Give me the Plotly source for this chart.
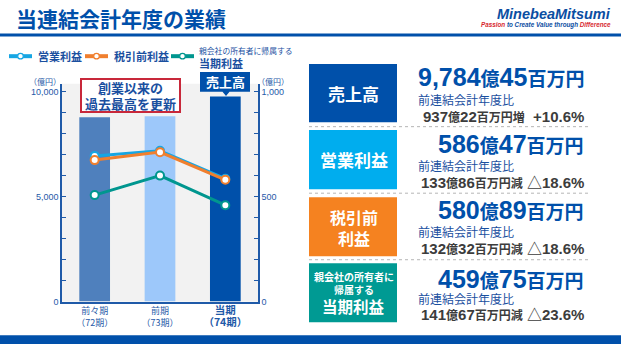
import plotly.graph_objects as go

# ---------------- data ----------------
categories = ["前々期<br>（72期）", "前期<br>（73期）",
              "<span style='font-size:10.5px'><b>当期</b></span><br><span style='font-size:10.5px'><b>（74期）</b></span>"]
sales = [8791, 8847, 9784]               # 億円 (left axis)
operating_income = [695, 720, 586]       # 億円 (right axis)
pretax_income = [675, 713, 581]
net_income = [508, 601, 460]
left_ticks = [0, 5000, 10000]
left_tick_text = ["0", "5,000", "10,000"]
right_ticks = [0, 500, 1000]
right_tick_text = ["0", "500", "1,000"]
series_names = ["営業利益", "税引前利益", "当期利益"]
series_prefix = ["", "", "親会社の所有者に帰属する"]

panel_labels = ["売上高", "営業利益", "税引前<br>利益", "親会社の所有者に<br>帰属する"]
panel_label_extra = ["", "", "", "当期利益"]
panel_big = [("9,784", "45"), ("586", "47"), ("580", "89"), ("459", "75")]
panel_diff = [("937", "22", "増", "+10.6%"), ("133", "86", "減", "△18.6%"),
              ("132", "32", "減", "△18.6%"), ("141", "67", "減", "△23.6%")]

# ---------------- helpers ----------------
W, H = 621, 349
def X(px): return px / W
def Y(py): return 1 - py / H

BLUE = "#0050aa"
AXBLUE = "#1f5aa8"
TXTBLUE = "#1a4f9f"
FONT = "Liberation Sans, Noto Sans CJK JP, sans-serif"
JP = "Noto Sans CJK JP, sans-serif"
colors = ["#17a6e3", "#f07f2e", "#00968f"]

fig = go.Figure()

fig.add_trace(go.Bar(
    x=categories, y=sales, width=0.47,
    marker=dict(color=["#4f80bd", "#9dc8fa", "#0050aa"], line=dict(width=0)),
    showlegend=False, hoverinfo="skip", yaxis="y"))

for name, vals, col in zip(series_names, [operating_income, pretax_income, net_income], colors):
    fig.add_trace(go.Scatter(
        x=categories, y=vals, name=name, yaxis="y2", mode="lines+markers",
        line=dict(color=col, width=3),
        marker=dict(size=8, color="white", line=dict(color=col, width=2)),
        showlegend=False, hoverinfo="skip"))

shapes = []
annotations = []

def ann(text, x, y, size, color, family=JP, xa="center", ya="middle", **kw):
    d = dict(text=text, x=X(x), y=Y(y), xref="paper", yref="paper", showarrow=False,
             xanchor=xa, yanchor=ya, font=dict(family=family, size=size, color=color))
    d.update(kw)
    annotations.append(d)

# title + underline + footer
ann("<b>当連結会計年度の業績</b>", 14, 18, 21, BLUE, xa="left")
shapes.append(dict(type="line", xref="paper", yref="paper", x0=0, x1=1, y0=Y(35.5), y1=Y(35.5),
                   line=dict(color=BLUE, width=3)))
shapes.append(dict(type="rect", xref="paper", yref="paper", x0=0, x1=1, y0=Y(349), y1=Y(340),
                   fillcolor=BLUE, line=dict(width=0)))
ann("<b><i>MinebeaMitsumi</i></b>", 613, 14.5, 14.5, "#0b4ea2", family="Liberation Sans, sans-serif", xa="right")
ann("<b><i><span style='color:#d7282f'>Passion</span> to Create Value through "
    "<span style='color:#d7282f'>Difference</span></i></b>", 613, 25.5, 6.3, "#0b4ea2",
    family="Liberation Sans, sans-serif", xa="right")

# manual legend
leg_x = [9, 85, 171]
for i, (lx, col) in enumerate(zip(leg_x, colors)):
    shapes.append(dict(type="line", xref="paper", yref="paper", x0=X(lx), x1=X(lx + 23), y0=Y(57), y1=Y(57),
                       line=dict(color=col, width=4)))
    cx = lx + 11.5
    shapes.append(dict(type="circle", xref="paper", yref="paper", x0=X(cx - 2.8), x1=X(cx + 2.8),
                       y0=Y(59.8), y1=Y(54.2), fillcolor="white", line=dict(color=col, width=1.2)))
    if series_prefix[i]:
        ann(series_prefix[i], lx + 26, 51.5, 7.8, TXTBLUE, xa="left")
        ann(f"<b>{series_names[i]}</b>", lx + 26, 63.5, 11, TXTBLUE, xa="left")
    else:
        ann(f"<b>{series_names[i]}</b>", lx + 27, 57, 11, TXTBLUE, xa="left")

# units
ann("（億円）", 45, 83, 8, AXBLUE)
ann("（億円）", 273, 83, 8, AXBLUE)

# record-high box
ann("<b>創業以来の<br>過去最高を更新</b>", 130.5, 96.5, 13, TXTBLUE, width=97, height=31,
    bgcolor="white", bordercolor="#c8283a", borderwidth=2, borderpad=0)

# 売上高 callout
x0, x1, y0, y1 = X(200), X(250), Y(73), Y(93)
path = (f"M {x0} {y0} L {x1} {y0} L {x1} {y1} L {X(229.5)} {y1} L {X(226)} {Y(97.5)} "
        f"L {X(222.5)} {y1} L {x0} {y1} Z")
shapes.append(dict(type="path", xref="paper", yref="paper", path=path, fillcolor=BLUE, line=dict(width=0)))
ann("<b>売上高</b>", 225, 83, 13, "white")

# right panel
box_y = [(65, 124), (132, 192), (200, 260), (267, 327)]
box_col = [BLUE, "#00adee", "#f58220", "#009a93"]
label_y = [94.5, 162, 231, 287.5]
label_size = [17, 17, 16, 10]
big_y = [78, 146, 213, 283]
cmp_y = [101, 168, 235, 303]
diff_y = [118, 185, 252, 319]
for i in range(4):
    ya, yb = box_y[i]
    shapes.append(dict(type="rect", xref="paper", yref="paper", x0=X(309), x1=X(397), y0=Y(yb), y1=Y(ya),
                       fillcolor=box_col[i], line=dict(width=0)))
    ann(f"<b>{panel_labels[i]}</b>", 353.5, label_y[i], label_size[i], "white", borderpad=0)
    if panel_label_extra[i]:
        ann(f"<b>{panel_label_extra[i]}</b>", 353.5, 310.5, 15.5, "white", borderpad=0)
    a, b = panel_big[i]
    ann((f"<b><span style='font-size:25px'>{a}</span><span style='font-size:19px'>億</span>"
         f"<span style='font-size:25px'>{b}</span><span style='font-size:19px'>百万円</span></b>"),
        586, big_y[i], 25, BLUE, family=FONT, xa="right")
    ann("前連結会計年度比", 416, cmp_y[i], 12, TXTBLUE, xa="left")
    d1, d2, d3, d4 = panel_diff[i]
    gap = "  " if i == 0 else " "
    ann((f"<b><span style='font-size:15px'>{d1}</span><span style='font-size:12px'>億</span>"
         f"<span style='font-size:15px'>{d2}</span><span style='font-size:12px'>百万円{d3}</span>{gap}"
         f"<span style='font-size:15px'>{d4}</span></b>"),
        586, diff_y[i], 15, "#3c3c3c", family=FONT, xa="right")
for sy in [128.5, 196, 263.5]:
    shapes.append(dict(type="line", xref="paper", yref="paper", x0=X(309), x1=X(588), y0=Y(sy), y1=Y(sy),
                       line=dict(color="#b5b5b5", width=1, dash="dot")))

fig.update_layout(
    width=W, height=H, margin=dict(l=0, r=0, t=0, b=0),
    paper_bgcolor="white", plot_bgcolor="#f2f2f2",
    font=dict(family=JP, size=9, color=AXBLUE),
    shapes=shapes, annotations=annotations,
    showlegend=False,
    xaxis=dict(domain=[X(62), X(258)], range=[-0.5, 2.5], showline=True, linecolor=AXBLUE, linewidth=1.5,
               ticks="", tickfont=dict(family=JP, size=9, color=AXBLUE), showgrid=False, fixedrange=True),
    yaxis=dict(domain=[Y(306), Y(85)], range=[0, 10390], showline=True, linecolor=AXBLUE, linewidth=1.5,
               tickvals=left_ticks, ticktext=left_tick_text, ticks="inside", ticklen=4, tickcolor=AXBLUE,
               minor=dict(dtick=1000, ticks="inside", ticklen=4, tickcolor=AXBLUE, showgrid=False),
               showgrid=False, zeroline=False, tickfont=dict(family=FONT, size=9, color=AXBLUE)),
    yaxis2=dict(overlaying="y", side="right", range=[0, 1039], showline=True, linecolor=AXBLUE, linewidth=1.5,
                tickvals=right_ticks, ticktext=right_tick_text, ticks="inside", ticklen=4, tickcolor=AXBLUE,
                minor=dict(dtick=100, ticks="inside", ticklen=4, tickcolor=AXBLUE, showgrid=False),
                showgrid=False, zeroline=False, tickfont=dict(family=FONT, size=9, color=AXBLUE)),
)

fig.write_html("out.html")
